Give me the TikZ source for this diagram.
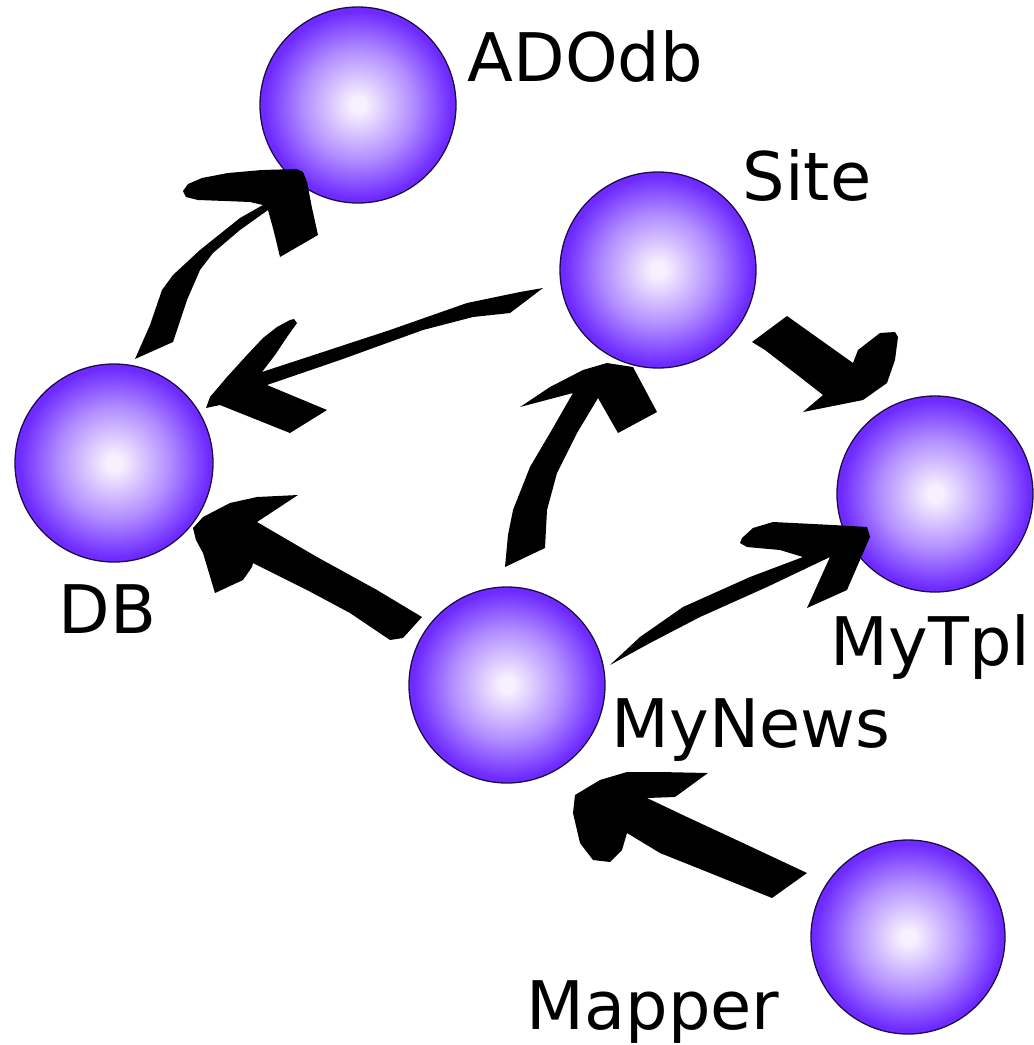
\documentclass[tikz,border=0pt]{standalone}
\usepackage{fontspec}
\setmainfont{DejaVu Sans}
\definecolor{sphin}{RGB}{246,240,255}
\definecolor{sphmid}{RGB}{178,142,255}
\definecolor{sphout}{RGB}{110,42,255}
\definecolor{sphedge}{RGB}{30,10,70}
\pgfdeclareradialshading{sphere}{\pgfpoint{0bp}{0bp}}{color(0bp)=(sphin); color(2bp)=(sphin); color(14bp)=(sphmid); color(24bp)=(sphout); color(50bp)=(sphout)}
\begin{document}
\begin{tikzpicture}[x=1pt,y=-1pt,
  ball/.style={circle,draw=sphedge,line width=1.3pt,shading=sphere,inner sep=0pt},
  lbl/.style={anchor=base west,inner sep=0pt,font=\fontsize{67}{80}\selectfont},
  brush/.style={fill=black}]
\useasboundingbox (0,0) rectangle (1034,1045);
% spheres
\node[ball,minimum size=196pt] (adodb)  at (358,105) {};
\node[ball,minimum size=196pt] (site)   at (658,270) {};
\node[ball,minimum size=198pt] (db)     at (114,463) {};
\node[ball,minimum size=196pt] (mytpl)  at (935,494) {};
\node[ball,minimum size=196pt] (mynews) at (507,685) {};
\node[ball,minimum size=194pt] (mapper) at (908,937) {};
% labels
\node[lbl] (ladodb)  at (467.5,81) {ADOdb};
\node[lbl] (lsite)   at (742.6,200) {Site};
\node[lbl] (ldb)     at (58.4,633) {DB};
\node[lbl] (lmytpl)  at (830.4,665) {MyTpl};
\node[lbl] (lmynews) at (611.4,747) {MyNews};
\node[lbl] (lmapper) at (526.4,1029) {Mapper};
% DB -> ADOdb
\fill[brush] (135,359) -- (150,325) -- (162,290) -- (173,275) -- (200,250) -- (240,218) -- (263,205)
  -- (250,202) -- (225,201) -- (198,200) -- (186,197) -- (183,191) -- (188,184) -- (202,178)
  -- (228,173) -- (262,170) -- (297,169) -- (303,172) -- (307,182) -- (312,208) -- (318,235)
  -- (280,257) -- (274,232) -- (268,210) -- (240,230) -- (213,253) -- (200,270) -- (187,300)
  -- (173,342) -- cycle;
% Site -> DB
\fill[brush] (543,288) -- (520,292) -- (467,303) -- (390,330) -- (323,352) -- (262,372)
  -- (275,355) -- (287,337) -- (297,323) -- (294,319) -- (290,320) -- (277,327) -- (263,338)
  -- (247,355) -- (227,377) -- (210,397) -- (206,408) -- (220,405) -- (290,433) -- (327,410)
  -- (267,385) -- (340,360) -- (423,330) -- (473,317) -- (510,313) -- cycle;
% Site -> MyTpl
\fill[brush] (787,316) -- (853,363) -- (858,350) -- (880,333) -- (895,332) -- (898,337)
  -- (895,360) -- (887,383) -- (863,400) -- (803,412) -- (823,395) -- (800,377) -- (765,350)
  -- (752,342) -- cycle;
% MyNews -> DB
\fill[brush] (422,617) -- (377,590) -- (317,557) -- (257,522) -- (298,495) -- (257,497)
  -- (230,503) -- (203,517) -- (193,528) -- (196,540) -- (203,553) -- (215,593) -- (243,580)
  -- (252,567) -- (253,563) -- (307,590) -- (350,613) -- (390,640) -- (403,638) -- cycle;
% MyNews -> Site
\fill[brush] (505,567) -- (508,535) -- (513,510) -- (530,467) -- (550,433) -- (573,393)
  -- (520,407) -- (550,387) -- (583,370) -- (607,363) -- (633,367) -- (657,412) -- (618,433)
  -- (598,398) -- (577,433) -- (557,473) -- (547,510) -- (545,548) -- cycle;
% MyNews -> MyTpl
\fill[brush] (610,665) -- (640,637) -- (683,607) -- (750,577) -- (803,557) -- (780,550)
  -- (747,547) -- (740,543) -- (742,538) -- (753,528) -- (773,522) -- (833,525) -- (867,527)
  -- (870,537) -- (863,553) -- (847,590) -- (807,608) -- (830,557) -- (767,587) -- (700,617)
  -- (650,643) -- cycle;
% Mapper -> MyNews
\fill[brush] (807,873) -- (743,843) -- (687,817) -- (647,798) -- (675,797) -- (708,773)
  -- (660,772) -- (627,772) -- (600,780) -- (575,795) -- (573,813) -- (580,843) -- (593,860)
  -- (610,862) -- (622,850) -- (627,833) -- (660,853) -- (710,873) -- (772,898) -- cycle;
\end{tikzpicture}
\end{document}
